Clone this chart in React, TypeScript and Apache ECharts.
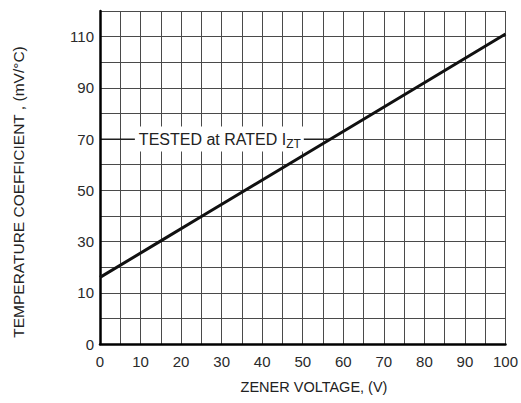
import React, { useEffect, useRef } from "react";
import * as echarts from "echarts";

const xTickLabels = [0, 10, 20, 30, 40, 50, 60, 70, 80, 90, 100];
const yTickLabels: Record<number, string> = { [-10]: "0", 10: "10", 30: "30", 50: "50", 70: "70", 90: "90", 110: "110" };
const zenerVoltage = [0, 15, 25, 50, 65, 100];
const tempCoeff = [16, 30.25, 39.75, 63.5, 77.75, 111];
const annotationLevel = 70;
const annotationEndX = 56.8;
const annotationTextX = 8.6;

const textFont = "'Liberation Sans', Arial, sans-serif";

export default function App() {
  const ref = useRef<HTMLDivElement>(null);
  useEffect(() => {
    if (!ref.current) return;
    const chart = echarts.init(ref.current, null, { renderer: "svg" });
    const gridColor = "#4a4a4a";
    const option: any = {
      animation: false,
      backgroundColor: "#fff",
      grid: { left: 100, right: 11, top: 11, bottom: 59 },
      xAxis: {
        type: "value",
        min: 0,
        max: 100,
        interval: 5,
        axisLine: { show: true, onZero: false, lineStyle: { color: "#000", width: 2.5 } },
        axisTick: { show: false },
        axisLabel: {
          margin: 10,
          fontSize: 15,
          fontFamily: textFont,
          color: "#2a2a2a",
          formatter: (v: number) => (xTickLabels.includes(v) ? String(v) : ""),
        },
        splitLine: { show: true, lineStyle: { color: gridColor, width: 1 } },
      },
      yAxis: {
        type: "value",
        min: -10,
        max: 120,
        interval: 10,
        axisLine: { show: true, onZero: false, lineStyle: { color: "#000", width: 2.5 } },
        axisTick: { show: false },
        axisLabel: {
          margin: 6,
          fontSize: 15,
          fontFamily: textFont,
          color: "#2a2a2a",
          formatter: (v: number) => yTickLabels[v] ?? "",
        },
        splitLine: { show: true, lineStyle: { color: gridColor, width: 1 } },
      },
      series: [
        {
          type: "line",
          data: [[0, annotationLevel], [annotationEndX, annotationLevel]],
          showSymbol: false,
          lineStyle: { color: "#000", width: 1 },
          z: 3,
          silent: true,
        },
        {
          type: "line",
          data: zenerVoltage.map((x, i) => [x, tempCoeff[i]]),
          showSymbol: false,
          lineStyle: { color: "#111", width: 3 },
          z: 5,
        },
      ],
      graphic: [
        {
          id: "ytitle",
          type: "text",
          x: 18,
          y: 192,
          rotation: Math.PI / 2,
          style: {
            text: "TEMPERATURE COEFFICIENT , (mV/°C)",
            fontSize: 15.5,
            fontFamily: textFont,
            fill: "#222",
            align: "center",
            verticalAlign: "middle",
          },
        },
        {
          id: "xtitle",
          type: "text",
          x: 314,
          y: 387,
          style: {
            text: "ZENER VOLTAGE, (V)",
            fontSize: 14.5,
            fontFamily: textFont,
            fill: "#222",
            align: "center",
            verticalAlign: "middle",
          },
        },
      ],
    };
    chart.setOption(option);
    const p = chart.convertToPixel({ gridIndex: 0 }, [annotationTextX, annotationLevel]) as number[];
    chart.setOption({
      graphic: [
        {
          id: "note",
          type: "text",
          x: p[0],
          y: p[1],
          z: 10,
          style: {
            text: "TESTED at RATED I{sub|ZT}",
            fontSize: 16,
            fontFamily: textFont,
            fill: "#222",
            lineHeight: 20,
            align: "left",
            verticalAlign: "middle",
            backgroundColor: "#fff",
            padding: [3, 3, 2, 4],
            rich: {
              sub: { fontSize: 12, fontFamily: textFont, fill: "#222", lineHeight: 9, verticalAlign: "bottom" },
            },
          },
        },
      ],
    });
    return () => chart.dispose();
  }, []);
  return <div ref={ref} style={{ width: 521, height: 403, position: "absolute", left: 0, top: 0 }} />;
}
